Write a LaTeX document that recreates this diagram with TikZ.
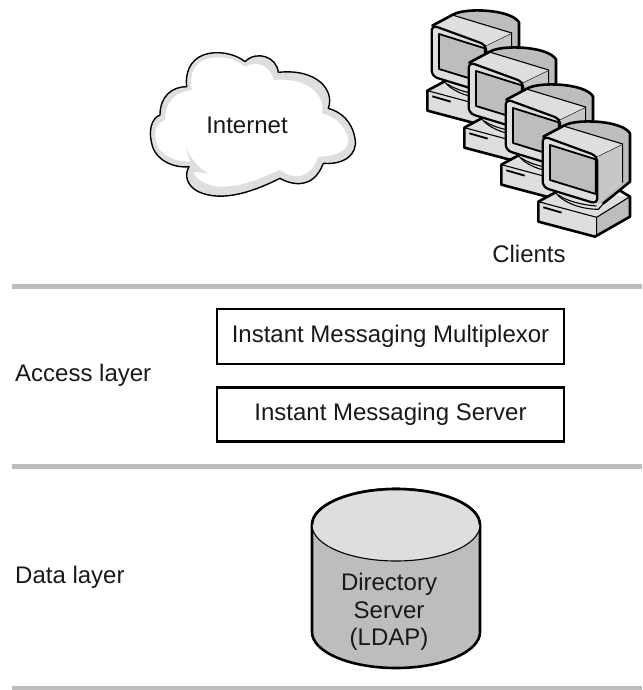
\documentclass[tikz,border=0pt]{standalone}
\usepackage{fontspec}
\setmainfont{Liberation Sans}
\definecolor{lg}{gray}{0.87}
\definecolor{mg}{gray}{0.74}
\definecolor{tx}{gray}{0.1}
\tikzset{
 x=1pt,y=-1pt,
 lab/.style={font=\fontsize{24}{27.5}\selectfont,text=tx,inner sep=0pt,align=center},
 rulebar/.style={draw=mg,line width=5pt},
 msgbox/.style={draw=black,fill=white,line width=2.2pt,minimum width=347pt,inner sep=0pt},
 pc/.style={draw=black,line width=1.1pt,line join=round},
 pcthick/.style={draw=black,line width=2.6pt,line join=round,line cap=round}
}
\newcommand{\clientpc}[2]{%
 \begin{scope}[shift={(#1,#2)},scale=0.3333]
  % base
  \path[fill=lg] (415,605) -- (480,570) -- (690,590) -- (690,650) -- (585,708) -- (415,665) -- cycle;
  \path[fill=mg] (590,650) -- (690,590) -- (690,650) -- (590,708) -- cycle;
  \draw[pc] (415,605) -- (590,652) -- (690,590) (590,652) -- (590,708);
  \draw[pc,line width=1.8pt] (430,622) -- (485,638);
  \draw[pcthick] (480,570) -- (415,605) -- (415,665) -- (585,710) -- (690,650) -- (690,590) -- (640,560);
  % stand
  \draw[pc,fill=lg] (462,570) .. controls (480,605) and (540,628) .. (595,628) -- (620,600) -- (480,550) -- cycle;
  \draw[pc] (475,585) .. controls (500,603) and (545,615) .. (590,618);
  % back
  \path[fill=mg] (490,378) .. controls (525,355) and (665,360) .. (690,400) -- (690,545) -- (610,610) -- (580,610) -- (580,470) -- cycle;
  \draw[pcthick] (490,378) .. controls (525,355) and (665,360) .. (690,400) -- (690,545) -- (660,570) -- (610,610);
  % side face
  \path[fill=mg!85!white] (590,470) -- (668,432) -- (668,548) -- (595,610) -- cycle;
  \draw[pc] (590,470) -- (668,432) -- (668,548);
  % top
  \path[fill=lg] (430,410) -- (490,378) -- (668,432) -- (590,470) -- cycle;
  \draw[pc] (490,378) -- (668,432);
  \draw[pc] (430,410) -- (590,470);
  \draw[pcthick] (430,410) -- (490,378);
  % front bezel
  \filldraw[pcthick,line width=2.2pt,fill=lg,rounded corners=6pt] (428,408) -- (592,468) -- (592,612) -- (428,562) -- cycle;
  \draw[pc,line width=1.8pt,fill=mg] (450,435) -- (587,478) -- (587,582) -- (450,540) -- cycle;
 \end{scope}}
\begin{document}
\begin{tikzpicture}
\useasboundingbox (0,0) rectangle (642,690);
% cloud
\begin{scope}[shift={(110,40)},scale=0.3333]
 \path[fill=white]
  (405,65) .. controls (375,40) and (320,30) .. (280,45)
  .. controls (240,60) and (225,100) .. (230,140)
  .. controls (185,140) and (150,170) .. (150,225)
  .. controls (125,235) and (115,270) .. (125,310)
  .. controls (135,360) and (190,385) .. (237,380)
  .. controls (220,410) and (235,440) .. (265,455)
  .. controls (340,490) and (440,450) .. (510,415)
  .. controls (545,435) and (610,450) .. (640,370)
  .. controls (700,375) and (745,345) .. (735,295)
  .. controls (725,240) and (690,215) .. (655,205)
  .. controls (675,150) and (620,85) .. (505,97)
  .. controls (500,50) and (440,30) .. (405,65) -- cycle;
 \path[fill=lg]
  (505,97) .. controls (620,85) and (675,150) .. (655,205)
  .. controls (690,215) and (725,240) .. (735,295)
  .. controls (745,345) and (700,375) .. (640,370)
  .. controls (610,450) and (545,435) .. (510,415)
  .. controls (440,450) and (340,490) .. (265,455)
  .. controls (235,440) and (220,410) .. (237,380)
  .. controls (190,385) and (135,360) .. (125,310)
  .. controls (115,270) and (125,235) .. (150,225)
  .. controls (150,170) and (185,140) .. (230,140)
  .. controls (225,100) and (240,60) .. (280,45)
  .. controls (320,30) and (375,40) .. (405,65)
  .. controls (440,30) and (500,50) .. (505,97)
  -- (492,120)
  .. controls (480,75) and (440,60) .. (405,80)
  .. controls (370,50) and (320,45) .. (280,60)
  .. controls (245,80) and (240,110) .. (245,150)
  .. controls (200,155) and (165,180) .. (165,240)
  .. controls (135,250) and (130,280) .. (140,310)
  .. controls (150,345) and (190,365) .. (240,365)
  -- (228,318) .. controls (240,355) and (265,385) .. (295,400)
  -- (250,395) .. controls (255,420) and (300,445) .. (350,440)
  .. controls (420,435) and (470,405) .. (510,390)
  .. controls (550,420) and (600,420) .. (625,350)
  .. controls (680,350) and (720,330) .. (715,295)
  .. controls (705,255) and (670,225) .. (635,220)
  .. controls (650,165) and (590,110) .. (492,120) -- cycle;
 \draw[black,line width=1.4pt,line join=round]
  (405,65) .. controls (375,40) and (320,30) .. (280,45)
  .. controls (240,60) and (225,100) .. (230,140)
  .. controls (185,140) and (150,170) .. (150,225)
  .. controls (125,235) and (115,270) .. (125,310)
  .. controls (135,360) and (190,385) .. (237,380)
  .. controls (220,410) and (235,440) .. (265,455)
  .. controls (340,490) and (440,450) .. (510,415)
  .. controls (545,435) and (610,450) .. (640,370)
  .. controls (700,375) and (745,345) .. (735,295)
  .. controls (725,240) and (690,215) .. (655,205)
  .. controls (675,150) and (620,85) .. (505,97)
  .. controls (500,50) and (440,30) .. (405,65) -- cycle;
\end{scope}
\node[lab] (internet) at (247,125) {Internet};
% clients
\clientpc{289}{-111}
\clientpc{326}{-74}
\clientpc{363}{-37}
\clientpc{400}{0}
\node[lab] (clients) at (529,254) {Clients};
% rules
\coordinate (r1a) at (12,286); \coordinate (r1b) at (642,286);
\coordinate (r2a) at (12,466.5); \coordinate (r2b) at (642,466.5);
\coordinate (r3a) at (12,688); \coordinate (r3b) at (642,688);
\draw[rulebar] (r1a) -- (r1b);
\draw[rulebar] (r2a) -- (r2b);
\draw[rulebar] (r3a) -- (r3b);
% boxes
\node[msgbox,lab,minimum height=55pt] (mux) at (390.5,336.5) {Instant Messaging Multiplexor};
\node[msgbox,lab,minimum height=54pt] (srv) at (390.5,414.5) {Instant Messaging Server};
\node[lab,anchor=west] (access) at (15,375) {Access layer};
\node[lab,anchor=west] (data) at (15,577) {Data layer};
% cylinder
\path[fill=mg,draw=black,line width=2.6pt] (312,525) -- (312,632) arc[start angle=180,end angle=0,x radius=84,y radius=36] -- (480,525) arc[start angle=0,end angle=-180,x radius=84,y radius=36] -- cycle;
\path[fill=lg] (396,525) ellipse[x radius=84,y radius=36];
\draw[black,line width=2.6pt] (312,525) arc[start angle=180,end angle=360,x radius=84,y radius=36];
\draw[black,line width=1.1pt] (312,525) arc[start angle=180,end angle=0,x radius=84,y radius=36];
\node[lab] (ldap) at (389,612) {Directory\\Server\\(LDAP)};
\end{tikzpicture}
\end{document}
